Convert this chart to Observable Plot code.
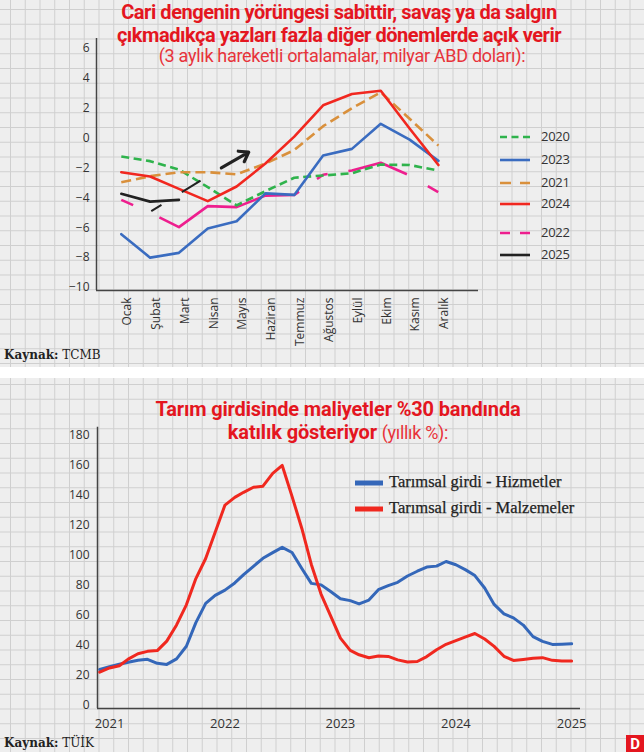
<!DOCTYPE html>
<html><head><meta charset="utf-8">
<script src="https://cdn.jsdelivr.net/npm/d3@7"></script>
<script src="https://cdn.jsdelivr.net/npm/@observablehq/plot@0.6"></script>
<style>
html,body{margin:0;padding:0}
body{width:644px;height:752px;overflow:hidden;background:#fff;position:relative;font-family:"Open Sans",sans-serif}
.panel{position:absolute;left:0;width:644px;background-color:#eeeeee;
 background-image:linear-gradient(#cfcfcf 1px,transparent 1px),linear-gradient(90deg,#cfcfcf 1px,transparent 1px);
 background-size:14.75px 14.75px}
#p1{top:0;height:367px;background-position:10px 9px}
#p2{top:378px;height:374px;background-position:10px 6px}
.abs{position:absolute;white-space:nowrap}
.ttl{font-family:Roboto,sans-serif;font-weight:700;color:#e4161f;font-size:20px;letter-spacing:-0.45px;line-height:23px;text-align:center;transform:translateX(-50%)}
.sub{font-family:Roboto,sans-serif;font-weight:400;color:#e8333a;font-size:18px;letter-spacing:-0.3px;transform:translateX(-50%)}
.src{font-family:"DejaVu Serif",serif;font-size:12px;color:#222;line-height:15px}
.leg{font-family:"Open Sans",sans-serif;font-size:13px;color:#333;letter-spacing:-0.3px}
.leg2{font-family:"Liberation Serif",serif;font-size:16.5px;letter-spacing:0;color:#222;line-height:20px;-webkit-text-stroke:0.25px #222}
#plot1,#plot2{position:absolute;left:0}
#plot1{top:0}#plot2{top:380px}
</style></head>
<body>
<div class="panel" id="p1"></div>
<div class="panel" id="p2"></div>
<div id="plot1"></div>
<div id="plot2"></div>
<div class="abs ttl" style="left:339px;top:1px">Cari dengenin yörüngesi sabittir, savaş ya da salgın<br>çıkmadıkça yazları fazla diğer dönemlerde açık verir</div>
<div class="abs sub" style="left:342px;top:45px">(3 aylık hareketli ortalamalar, milyar ABD doları):</div>
<div class="abs src" style="left:4px;top:348px"><b>Kaynak:</b> TCMB</div>
<div class="abs ttl" style="left:338px;top:398px;letter-spacing:-0.15px">Tarım girdisinde maliyetler %30 bandında<br>katılık gösteriyor <span style="font-weight:400;color:#e8333a;font-size:18px;letter-spacing:-0.3px">(yıllık %):</span></div>
<div class="abs src" style="left:4px;top:736px"><b>Kaynak:</b> TÜİK</div>
<div class="abs" style="left:626px;top:735px;width:18px;height:17px;background:#e4161f;color:#fff;font:700 15px Roboto,sans-serif;text-align:center;line-height:19px">D</div>
<div id="legend1"></div>
<div id="legend2"></div>
<script>
(function(){
// ---------- Top chart data ----------
const months = ["Ocak","Şubat","Mart","Nisan","Mayıs","Haziran","Temmuz","Ağustos","Eylül","Ekim","Kasım","Aralık"];
const yTicksTop = [6,4,2,0,-2,-4,-6,-8,-10];
const v2020 = [-1.23,-1.54,-2.1,-3.28,-4.5,-3.55,-2.65,-2.5,-2.35,-1.77,-1.8,-2.17];
const v2021 = [-2.95,-2.55,-2.28,-2.28,-2.42,-1.7,-0.8,0.8,2.0,3.07,1.3,-0.5];
const v2022 = [-4.13,-5.0,-5.96,-4.55,-4.62,-3.85,-3.8,-2.45,-2.17,-1.65,-2.5,-3.62];
const v2023 = [-6.43,-8.0,-7.68,-6.05,-5.56,-3.7,-3.8,-1.16,-0.72,0.96,-0.1,-1.52];
const v2024 = [-2.28,-2.57,-3.4,-4.22,-3.24,-1.7,0.1,2.2,2.95,3.17,0.65,-1.8];
const v2025 = [-3.73,-4.25,-4.13];
const legendYears = ["2020","2023","2021","2024","2022","2025"];
const arrowsTop = [
  {x1:1.04, y1:-4.89, x2:2.75, y2:-2.84, head:false},
  {x1:3.47, y1:-1.99, x2:4.42, y2:-0.94, head:true}
];

const styleTop = {
  "2020": {stroke:"#2fb34c", dash:"8,4.5", legDash:"7,4.5"},
  "2021": {stroke:"#d9903c", dash:"10,5", legDash:"11,9"},
  "2022": {stroke:"#ee1e8e", dash:"13,29,152,22,12,21,62,24,12", legDash:"10,10"},
  "2023": {stroke:"#3a6cc0", dash:null, legDash:null},
  "2024": {stroke:"#f1271f", dash:null, legDash:null},
  "2025": {stroke:"#222222", dash:null, legDash:null}
};
const seriesTop = {"2020":v2020,"2021":v2021,"2022":v2022,"2023":v2023,"2024":v2024,"2025":v2025};
const drawOrder = ["2022","2020","2021","2023","2024","2025"];

const xDomTop = [-0.86, 12.39];
const yDomTop = [-10.2, 6.67];

const lineMarks = drawOrder.map(k => {
  const rows = seriesTop[k].map((v,i)=>({m:i, v}));
  const s = styleTop[k];
  return Plot.line(rows, {x:"m", y:"v", stroke:s.stroke, strokeWidth:2.6,
    strokeDasharray: s.dash || undefined, strokeLinecap: s.dash ? "butt" : "round", strokeLinejoin:"round"});
});

const chartTop = Plot.plot({
  width:644, height:370,
  marginLeft:96, marginRight:166, marginTop:38, marginBottom:80,
  style:{background:"transparent", fontFamily:"Open Sans, sans-serif", fontSize:"12px", color:"#333", overflow:"visible"},
  x:{domain:xDomTop},
  y:{domain:yDomTop},
  marks:[
    Plot.ruleX([xDomTop[0]], {stroke:"#444", strokeWidth:1.5}),
    Plot.ruleY([yDomTop[0]], {stroke:"#444", strokeWidth:1.5}),
    Plot.axisY({ticks:yTicksTop, tickSize:0, tickPadding:7, label:null, fontSize:12}),
    Plot.axisX({ticks:d3.range(12), tickFormat:i=>months[i], tickRotate:-90, tickSize:0, tickPadding:7, dx:6, label:null, fontSize:12}),
    ...lineMarks,
    Plot.link(arrowsTop.filter(a=>!a.head), {x1:"x1", y1:"y1", x2:"x2", y2:"y2", stroke:"#222", strokeWidth:2, strokeDasharray:"12,24,22"}),
    Plot.arrow(arrowsTop.filter(a=>a.head), {x1:"x1", y1:"y1", x2:"x2", y2:"y2", stroke:"#222", strokeWidth:3.2, headLength:9, headAngle:70})
  ]
});
document.getElementById("plot1").appendChild(chartTop);

// top legend (HTML)
const legTopY = [137,160,183,204,233,255];
const leg1 = document.getElementById("legend1");
legendYears.forEach((k,i)=>{
  const s = styleTop[k];
  const y = legTopY[i];
  leg1.insertAdjacentHTML("beforeend",
    `<svg class="abs" style="left:497px;top:${y-5}px" width="36" height="10"><line x1="3" x2="33" y1="5" y2="5" stroke="${s.stroke}" stroke-width="2.6" ${s.legDash?`stroke-dasharray="${s.legDash}"`:""}/></svg>` +
    `<div class="abs leg" style="left:541px;top:${y-10}px">${k}</div>`);
});

// ---------- Bottom chart data (monthly, Dec 2020 – Jan 2025) ----------
const hizmetler = [24,25.8,27.5,28.8,30.2,30.8,28.1,27.4,31.1,39.5,55.2,68.1,73.4,76.9,81.7,87.2,92.8,98.1,101.9,105.4,102,91.3,81.4,80.4,76,71.2,69.9,67.7,70.3,77.2,79.9,82.1,86.3,89.5,92.3,92.9,96,93.8,90.4,86.6,78.3,67.4,61.1,58.4,53.6,45.9,42.7,40.7,40.9,41.1];
const malzemeler = [22.2,25,26.5,30.9,34.5,36.1,36.6,42.9,53.7,67.1,84.6,98,115.5,133.6,138.7,142.1,145.5,146.2,154.7,160,139.4,118,94,74.1,59.8,44.9,36.7,33.8,31.8,33,32.7,30.4,29,29.3,32.6,37.2,40.8,43.3,45.8,48,44.3,39.4,32.8,30,30.7,31.5,31.9,30.1,29.6,29.6];
const startYear = 2020, startMonth = 11;
const yearTicks = [2021,2022,2023,2024,2025];
const yTicksBot = [0,20,40,60,80,100,120,140,160,180];
const seriesBot = [
  {name:"Tarımsal girdi - Hizmetler", values:hizmetler, color:"#3467b9"},
  {name:"Tarımsal girdi - Malzemeler", values:malzemeler, color:"#f0281f"}
];
const monthDate = i => new Date(Date.UTC(startYear, startMonth + i, 1));
const xDomBot = [new Date(Date.UTC(2020,10,24)), new Date(Date.UTC(2025,0,29))];
const yDomBot = [-2, 185.5];

const chartBottom = Plot.plot({
  width:644, height:372,
  marginLeft:97, marginRight:64, marginTop:46.7, marginBottom:44,
  style:{background:"transparent", fontFamily:"Open Sans, sans-serif", fontSize:"12px", color:"#333", overflow:"visible"},
  x:{type:"utc", domain:xDomBot},
  y:{domain:yDomBot},
  marks:[
    Plot.ruleX([xDomBot[0]], {stroke:"#444", strokeWidth:1.5}),
    Plot.ruleY([yDomBot[0]], {stroke:"#444", strokeWidth:1.5}),
    Plot.axisY({ticks:yTicksBot, tickSize:0, tickPadding:8, label:null, fontSize:12}),
    Plot.axisX({ticks:yearTicks.map(y=>new Date(Date.UTC(y,0,1))), tickFormat:d3.utcFormat("%Y"), tickSize:0, tickPadding:10, label:null, fontSize:13}),
    ...seriesBot.map(s => Plot.line(s.values.map((v,i)=>({d:monthDate(i), v})), {x:"d", y:"v", stroke:s.color, strokeWidth:3, strokeLinejoin:"round"}))
  ]
});
document.getElementById("plot2").appendChild(chartBottom);

const legBotY = [483,509];
const leg2 = document.getElementById("legend2");
seriesBot.forEach((s,i)=>{
  const y = legBotY[i];
  leg2.insertAdjacentHTML("beforeend",
    `<svg class="abs" style="left:354px;top:${y-4}px" width="30" height="8"><line x1="1" x2="29" y1="4" y2="4" stroke="${s.color}" stroke-width="5"/></svg>` +
    `<div class="abs leg2" style="left:389px;top:${y-11}px">${s.name}</div>`);
});
})();
</script>
</body></html>
